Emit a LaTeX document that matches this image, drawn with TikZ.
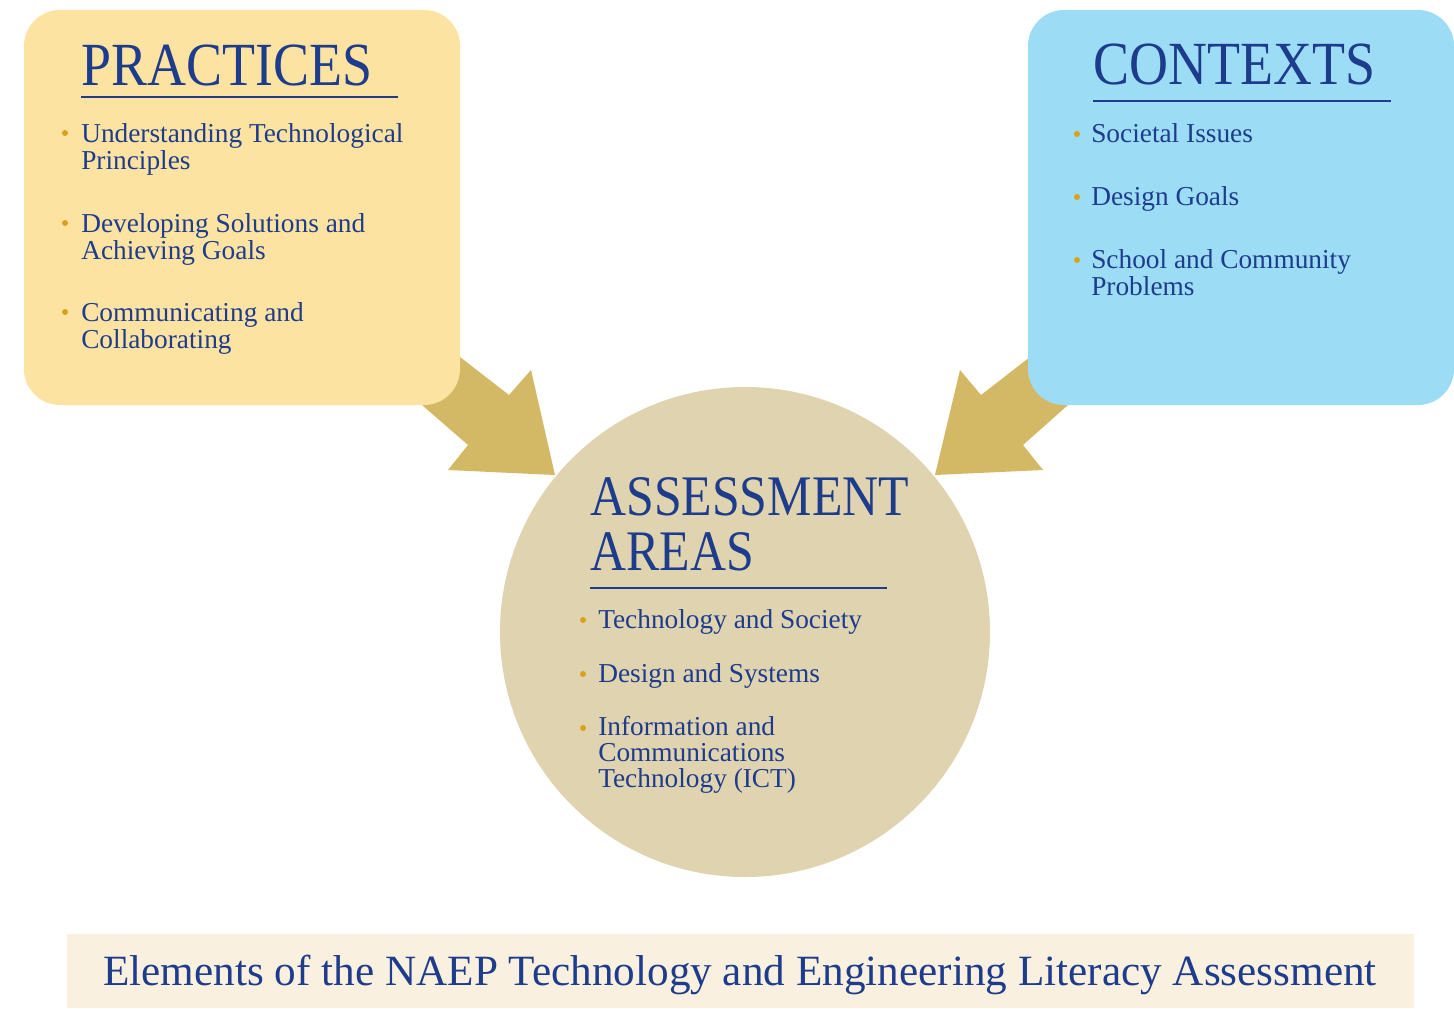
\documentclass[tikz,border=0pt]{standalone}
\usepackage{fontspec}
\setmainfont{Liberation Serif}
\definecolor{ink}{HTML}{1E3C8C}
\definecolor{dot}{HTML}{D9A21B}
\definecolor{practbg}{HTML}{FDE3A1}
\definecolor{contbg}{HTML}{9DDCF5}
\definecolor{areabg}{HTML}{E0D3B0}
\definecolor{arrowfill}{HTML}{D3B866}
\definecolor{bannerbg}{HTML}{FAF0E0}
\begin{document}
\begin{tikzpicture}[x=0.75pt,y=-0.75pt,
  heading/.style={anchor=base west,inner sep=0pt,text=ink,align=left,font=\fontsize{46}{46}\selectfont},
  item/.style={anchor=base west,inner sep=0pt,text=ink,align=left,font=\fontsize{20.5}{20.25}\selectfont},
  bul/.style={circle,fill=dot,inner sep=0pt,minimum size=4.5pt},
  rule/.style={draw=ink,line width=1.1pt},
  blockarrow/.style={fill=arrowfill}]
\useasboundingbox (0,0) rectangle (1454,1008);

% block arrows (drawn first, so the boxes cover their tails)
\coordinate (la1) at (411,319);
\coordinate (la2) at (509,395);
\coordinate (la3) at (531,370);
\coordinate (latip) at (555,475);
\coordinate (la5) at (448,470);
\coordinate (la6) at (468,445);
\coordinate (la7) at (376,365);
\fill[blockarrow] (la1) -- (la2) -- (la3) -- (latip) -- (la5) -- (la6) -- (la7) -- cycle;
\coordinate (ra1) at (1079,319);
\coordinate (ra2) at (981,395);
\coordinate (ra3) at (960,370);
\coordinate (ratip) at (935,475);
\coordinate (ra5) at (1043,470);
\coordinate (ra6) at (1023,445);
\coordinate (ra7) at (1113,365);
\fill[blockarrow] (ra1) -- (ra2) -- (ra3) -- (ratip) -- (ra5) -- (ra6) -- (ra7) -- cycle;

% boxes and circle
\fill[practbg,rounded corners=27pt] (24,10) rectangle (460,405);
\fill[contbg,rounded corners=27pt] (1028,10) rectangle (1454,405);
\fill[areabg] (745,632) circle[radius=245];
\fill[bannerbg] (67,934) rectangle (1414,1008);

% PRACTICES (multi-line nodes are anchored at the baseline of their last line)
\node[heading] (ph) at (81,85) {\scalebox{0.88}[1]{PRACTICES}};
\draw[rule] (81,97) -- (398,97);
\node[bul] (pb1) at (65,133) {};
\node[item] (p1) at (81,169) {Understanding Technological\\Principles};
\node[bul] (pb2) at (65,223) {};
\node[item] (p2) at (81,259) {Developing Solutions and\\Achieving Goals};
\node[bul] (pb3) at (65,312) {};
\node[item] (p3) at (81,348) {Communicating and\\Collaborating};

% CONTEXTS
\node[heading] (ch) at (1093,84) {\scalebox{0.88}[1]{CONTEXTS}};
\draw[rule] (1093,101) -- (1391,101);
\node[bul] (cb1) at (1077,134) {};
\node[item] (c1) at (1091,142) {Societal Issues};
\node[bul] (cb2) at (1077,197) {};
\node[item] (c2) at (1091,205) {Design Goals};
\node[bul] (cb3) at (1077,260) {};
\node[item] (c3) at (1091,295) {School and Community\\Problems};

% ASSESSMENT AREAS
\node[heading,font=\fontsize{43}{41.25}\selectfont] (ah) at (590,570) {\scalebox{0.87}[1]{ASSESSMENT}\\\scalebox{0.87}[1]{AREAS}};
\draw[rule] (590,588) -- (887,588);
\node[bul] (ab1) at (583,620) {};
\node[item] (a1) at (598,628) {Technology and Society};
\node[bul] (ab2) at (583,674) {};
\node[item] (a2) at (598,682) {Design and Systems};
\node[bul] (ab3) at (583,728) {};
\node[item,font=\fontsize{20.5}{19.2}\selectfont] (a3) at (598,787) {Information and\\Communications\\Technology (ICT)};

% caption
\node[anchor=base,inner sep=0pt,text=ink,font=\fontsize{32.4}{33}\selectfont] (cap) at (740,985)
  {Elements of the NAEP Technology and Engineering Literacy Assessment};
\end{tikzpicture}
\end{document}
